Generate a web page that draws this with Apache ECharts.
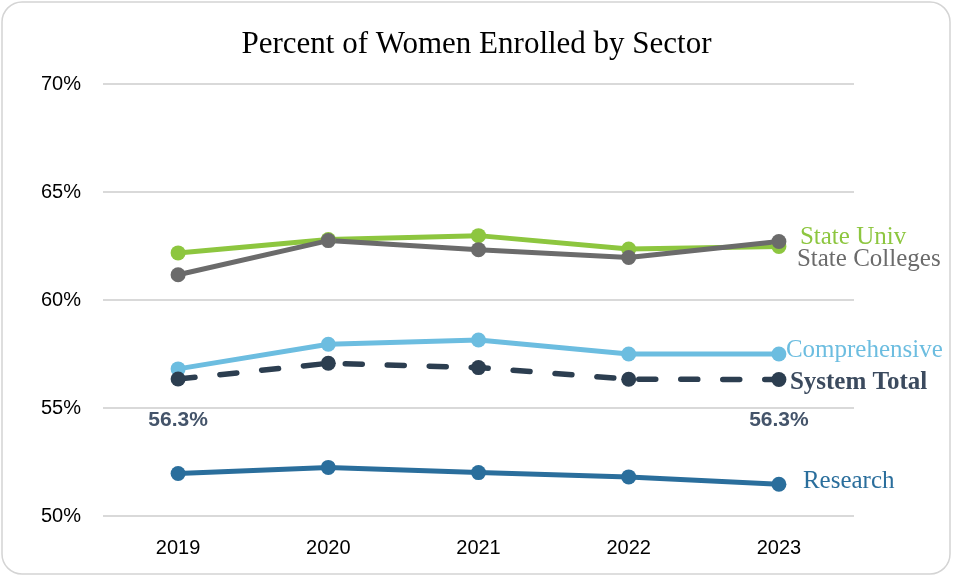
<!DOCTYPE html>
<html>
<head>
<meta charset="utf-8">
<script src="https://cdn.jsdelivr.net/npm/echarts@6/dist/echarts.min.js"></script>
<style>
  html, body { margin: 0; padding: 0; background: #fff; }
  #chart { width: 953px; height: 577px; }
</style>
</head>
<body>
<div id="chart"></div>
<script>
  var years = ['2019', '2020', '2021', '2022', '2023'];
  var stateUniv = [62.18, 62.8, 62.98, 62.36, 62.48];
  var stateColleges = [61.17, 62.75, 62.33, 61.97, 62.71];
  var comprehensive = [56.81, 57.95, 58.15, 57.5, 57.5];
  var systemTotal = [56.34, 57.07, 56.87, 56.33, 56.32];
  var research = [51.97, 52.25, 52.01, 51.81, 51.47];
  var yTicks = [50, 55, 60, 65, 70];

  var chart = echarts.init(document.getElementById('chart'));

  function line(name, data, color, endOffset, extra) {
    var s = {
      name: name,
      type: 'line',
      data: data,
      symbol: 'circle',
      symbolSize: 15,
      itemStyle: { color: color },
      lineStyle: { color: color, width: 5 },
      endLabel: {
        show: true,
        formatter: '{a}',
        distance: 0,
        offset: endOffset,
        color: color,
        fontFamily: 'Liberation Serif',
        fontSize: 25
      },
      animation: false
    };
    if (extra) extra(s);
    return s;
  }

  // total line: only first and last points get value labels
  var totalData = systemTotal.map(function (v, i) {
    if (i === 0 || i === systemTotal.length - 1) {
      return {
        value: v,
        label: {
          show: true,
          position: 'bottom',
          distance: 23,
          formatter: function (p) { return p.value.toFixed(1) + '%'; },
          color: '#44546A',
          fontFamily: 'Liberation Sans',
          fontWeight: 'bold',
          fontSize: 21
        }
      };
    }
    return v;
  });

  var option = {
    title: {
      text: 'Percent of Women Enrolled by Sector',
      left: 'center',
      top: 24,
      textStyle: {
        fontFamily: 'Liberation Serif',
        fontWeight: 'normal',
        fontSize: 31,
        color: '#000'
      }
    },
    graphic: [{
      type: 'rect',
      shape: { x: 2, y: 2, width: 948, height: 572, r: 20 },
      style: { fill: 'none', stroke: '#d4d4d4', lineWidth: 1.5 },
      silent: true
    }],
    grid: { left: 103, right: 99, top: 84, bottom: 61 },
    xAxis: {
      type: 'category',
      data: years,
      boundaryGap: true,
      axisLine: { show: false },
      axisTick: { show: false },
      axisLabel: {
        margin: 22,
        color: '#000',
        fontFamily: 'Liberation Sans',
        fontSize: 20
      }
    },
    yAxis: {
      type: 'value',
      min: yTicks[0],
      max: yTicks[yTicks.length - 1],
      interval: 5,
      axisLine: { show: false },
      axisTick: { show: false },
      splitLine: { lineStyle: { color: '#d9d9d9', width: 2 } },
      axisLabel: {
        margin: 22,
        formatter: '{value}%',
        color: '#000',
        fontFamily: 'Liberation Sans',
        fontSize: 20
      }
    },
    series: [
      line('State Univ', stateUniv, '#8DC63F', [21, -9]),
      line('State Colleges', stateColleges, '#6B6B6B', [18, 18]),
      line('Comprehensive', comprehensive, '#6CBDE0', [7, -4]),
      line('System Total', totalData, '#2C3E50', [11, 3], function (s) {
        s.lineStyle.type = [17, 25];
        s.lineStyle.cap = 'round';
        s.lineStyle.width = 5.5;
        s.endLabel.fontWeight = 'bold';
        s.endLabel.color = '#3B4A5E';
      }),
      line('Research', research, '#2A6E9C', [24, -3])
    ]
  };

  chart.setOption(option);
</script>
</body>
</html>
